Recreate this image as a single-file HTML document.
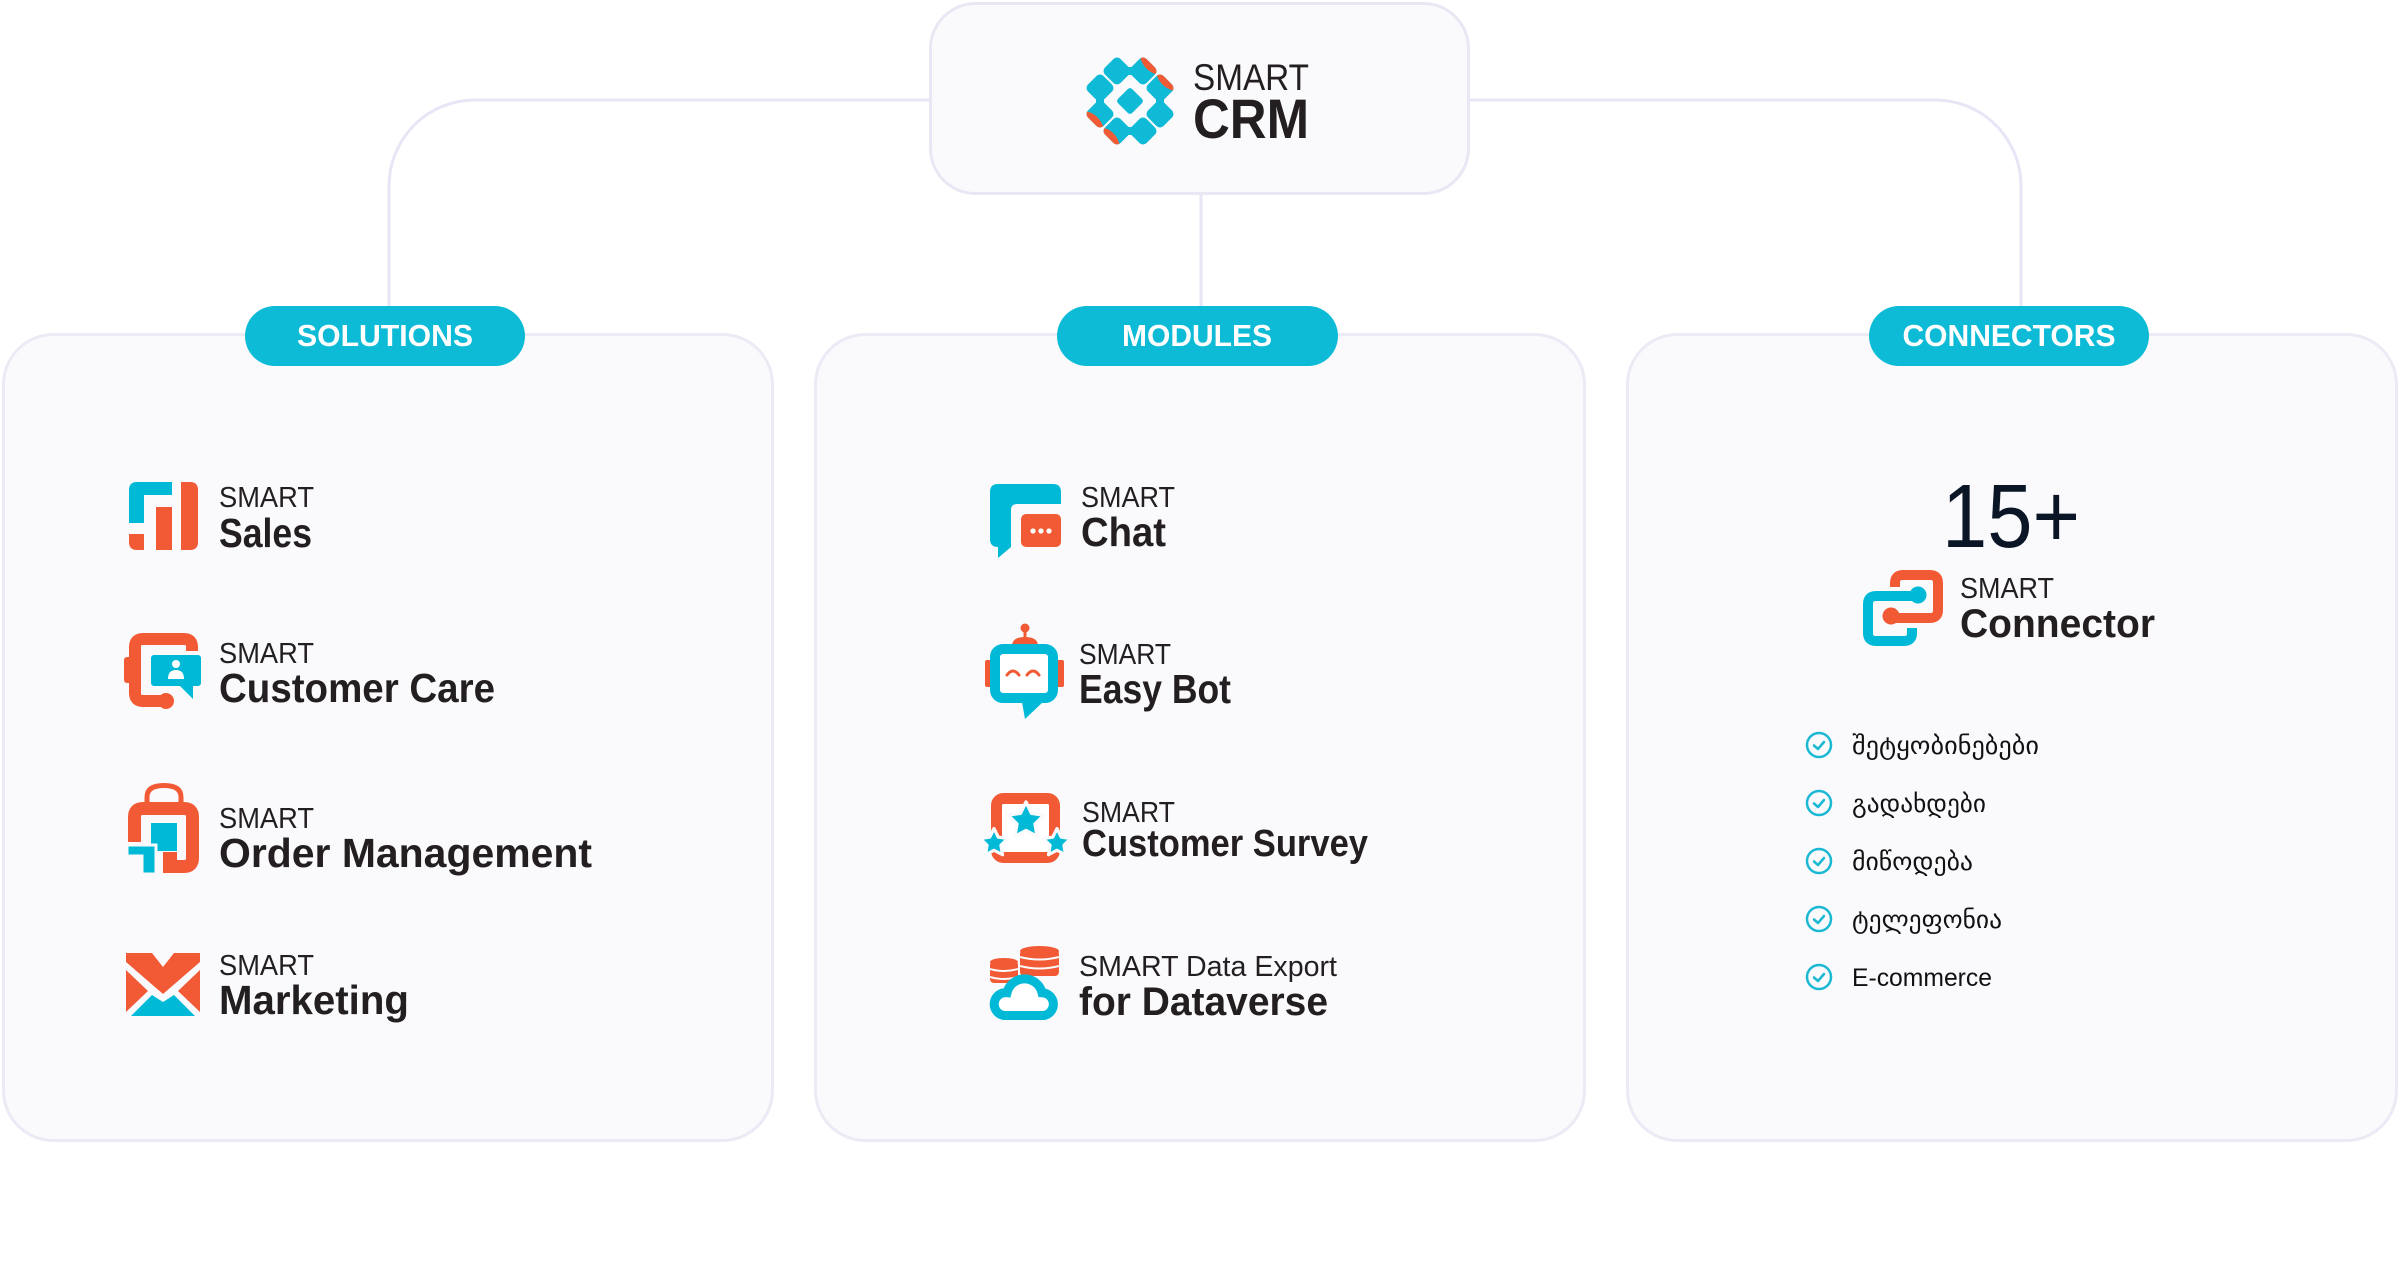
<!DOCTYPE html>
<html><head><meta charset="utf-8"><style>
html,body{margin:0;padding:0;background:#fff;}
svg{display:block;}
text{font-family:"Liberation Sans","DejaVu Sans",sans-serif;}
.geo{font-family:"DejaVu Sans","Liberation Sans",sans-serif;}
</style></head><body>
<svg width="2400" height="1284" viewBox="0 0 2400 1284" xmlns="http://www.w3.org/2000/svg">
<defs>
<polygon id="star" points="0,-10 2.94,-4.05 9.51,-3.09 4.76,1.55 5.88,8.09 0,5 -5.88,8.09 -4.76,1.55 -9.51,-3.09 -2.94,-4.05"/>
<rect id="lobe" x="-11" y="-11" width="22" height="22" rx="5"/>
<clipPath id="cT2"><use href="#lobe" transform="translate(13,-30) rotate(45)"/></clipPath>
<clipPath id="cL2"><use href="#lobe" transform="translate(-30,13) rotate(45)"/></clipPath>
<clipPath id="cR1"><use href="#lobe" transform="translate(30,-13) rotate(45)"/></clipPath>
<clipPath id="cB1"><use href="#lobe" transform="translate(-13,30) rotate(45)"/></clipPath>
</defs>
<rect width="2400" height="1284" fill="#fff"/>

<!-- connectors -->
<g fill="none" stroke="#e6e6f6" stroke-width="3">
<path d="M930,100 H475 A86,86 0 0 0 389,186 V306"/>
<path d="M1469,100 H1935 A86,86 0 0 1 2021,186 V306"/>
<path d="M1201,194 V306"/>
</g>

<!-- CRM box -->
<rect x="930.5" y="3.5" width="538" height="190" rx="45" fill="#fafafd" stroke="#e8e8f4" stroke-width="3"/>
<g transform="translate(1130,101)">
  <g fill="#0ebad6">
    <use href="#lobe" transform="translate(-13,-30) rotate(45)"/>
    <use href="#lobe" transform="translate(13,-30) rotate(45)"/>
    <rect x="-4" y="-34" width="8" height="8"/>
    <use href="#lobe" transform="translate(-30,-13) rotate(45)"/>
    <use href="#lobe" transform="translate(-30,13) rotate(45)"/>
    <rect x="-34" y="-4" width="8" height="8"/>
    <use href="#lobe" transform="translate(30,-13) rotate(45)"/>
    <use href="#lobe" transform="translate(30,13) rotate(45)"/>
    <rect x="26" y="-4" width="8" height="8"/>
    <use href="#lobe" transform="translate(-13,30) rotate(45)"/>
    <use href="#lobe" transform="translate(13,30) rotate(45)"/>
    <rect x="-4" y="26" width="8" height="8"/>
    <rect x="-10" y="-10" width="20" height="20" rx="3" transform="rotate(45)"/>
  </g>
  <g fill="#f05a35">
    <circle cx="32" cy="-48" r="22" clip-path="url(#cT2)"/>
    <circle cx="-48" cy="32" r="22" clip-path="url(#cL2)"/>
    <circle cx="48" cy="-32" r="22" clip-path="url(#cR1)"/>
    <circle cx="-32" cy="48" r="22" clip-path="url(#cB1)"/>
  </g>
</g>
<text x="1193" y="90" font-size="37" fill="#231f20" textLength="116" lengthAdjust="spacingAndGlyphs">SMART</text>
<text x="1193" y="138" font-size="56" font-weight="bold" fill="#231f20" textLength="116" lengthAdjust="spacingAndGlyphs">CRM</text>

<!-- cards -->
<g fill="#fafafd" stroke="#ebebf5" stroke-width="3">
<rect x="3.5" y="334.5" width="769" height="806" rx="50"/>
<rect x="815.5" y="334.5" width="769" height="806" rx="50"/>
<rect x="1627.5" y="334.5" width="769" height="806" rx="50"/>
</g>

<!-- pills -->
<g fill="#0ebbd6">
<rect x="245" y="306" width="280" height="60" rx="30"/>
<rect x="1057" y="306" width="281" height="60" rx="30"/>
<rect x="1869" y="306" width="280" height="60" rx="30"/>
</g>
<g fill="#fff" font-size="31" font-weight="bold" text-anchor="middle">
<text x="385" y="346" textLength="176" lengthAdjust="spacingAndGlyphs">SOLUTIONS</text>
<text x="1197" y="346" textLength="150" lengthAdjust="spacingAndGlyphs">MODULES</text>
<text x="2009" y="346" textLength="213" lengthAdjust="spacingAndGlyphs">CONNECTORS</text>
</g>

<!-- ===== Card 1 icons ===== -->
<!-- Sales -->
<path fill="#00b9d6" d="M129,523 V490 Q129,482 137,482 H172 V495 H144 V523 Z"/>
<path fill="#f15a34" d="M181,482 H190 Q198,482 198,490 V542 Q198,550 190,550 H181 Z"/>
<rect fill="#f15a34" x="156" y="507" width="16" height="43"/>
<path fill="#f15a34" d="M129,534 H144 V550 H137 Q129,550 129,542 Z"/>

<!-- Customer Care -->
<path fill="none" stroke="#f15a34" stroke-width="12" d="M192,662 V647 Q192,639 184,639 H143 Q135,639 135,647 V693 Q135,701 143,701 H163"/>
<rect fill="#f15a34" x="124" y="657" width="9" height="26" rx="3"/>
<circle fill="#f15a34" cx="166" cy="701" r="8"/>
<rect fill="#00b9d6" stroke="#fafafd" stroke-width="4" x="149" y="653" width="54" height="35" rx="5"/>
<polygon fill="#00b9d6" points="180,686 193,686 193,699"/>
<circle fill="#fff" cx="176" cy="664" r="4"/>
<path fill="#fff" d="M168,679 Q168,670 176,670 Q184,670 184,679 Z"/>

<!-- Order Management -->
<path fill="none" stroke="#f15a34" stroke-width="5" d="M147,805 V797 Q147,785.5 164,785.5 Q181,785.5 181,797 V805"/>
<path fill="none" stroke="#f15a34" stroke-width="13" d="M134.5,842 V817 Q134.5,808.5 143,808.5 H184 Q192.5,808.5 192.5,817 V858 Q192.5,866.5 184,866.5 H165"/>
<rect fill="#f15a34" x="163" y="852" width="14" height="21"/>
<rect fill="#00b9d6" x="151" y="823" width="26" height="28"/>
<path fill="#00b9d6" stroke="#fafafd" stroke-width="3" d="M127,845 H156 V874 H142 V856 H127 Z"/>

<!-- Marketing -->
<polygon fill="#f15a34" points="126,953 152,953 163,967 174,953 200,953 200,962 163,994 126,962"/>
<polygon fill="#f15a34" points="126,970 126,1012 148,991"/>
<polygon fill="#f15a34" points="200,970 200,1012 178,991"/>
<polygon fill="#00b9d6" points="131,1016 195,1016 174,995 163,1002 152,995"/>

<!-- Card 1 text -->
<g fill="#231f20">
<text x="219" y="507" font-size="29" textLength="95" lengthAdjust="spacingAndGlyphs">SMART</text>
<text x="219" y="547" font-size="41" font-weight="bold" textLength="93" lengthAdjust="spacingAndGlyphs">Sales</text>
<text x="219" y="663" font-size="29" textLength="95" lengthAdjust="spacingAndGlyphs">SMART</text>
<text x="219" y="702" font-size="41" font-weight="bold" textLength="276" lengthAdjust="spacingAndGlyphs">Customer Care</text>
<text x="219" y="828" font-size="29" textLength="95" lengthAdjust="spacingAndGlyphs">SMART</text>
<text x="219" y="867" font-size="41" font-weight="bold" textLength="373" lengthAdjust="spacingAndGlyphs">Order Management</text>
<text x="219" y="975" font-size="29" textLength="95" lengthAdjust="spacingAndGlyphs">SMART</text>
<text x="219" y="1014" font-size="41" font-weight="bold" textLength="190" lengthAdjust="spacingAndGlyphs">Marketing</text>
</g>

<!-- ===== Card 2 icons ===== -->
<!-- Chat -->
<path fill="#00b9d6" d="M998,484 H1053 Q1061,484 1061,492 V504 H1017 Q1011,504 1011,510 V547 L998,558 V547 Q990,547 990,539 V492 Q990,484 998,484 Z"/>
<rect fill="#f15a34" x="1021" y="514" width="40" height="33" rx="5"/>
<g fill="#fff"><circle cx="1033" cy="531" r="2.6"/><circle cx="1041" cy="531" r="2.6"/><circle cx="1049" cy="531" r="2.6"/></g>

<!-- Easy Bot -->
<circle fill="#f15a34" cx="1025" cy="628" r="4.5"/>
<rect fill="#f15a34" x="1023.5" y="628" width="3" height="12"/>
<path fill="#f15a34" d="M1012,646 Q1012,637 1025,637 Q1038,637 1038,646 Z"/>
<rect fill="#f15a34" x="985" y="660" width="8" height="27" rx="2"/>
<rect fill="#f15a34" x="1056" y="660" width="8" height="27" rx="2"/>
<rect fill="#fff" stroke="#00b9d6" stroke-width="10" x="995" y="649" width="58" height="49" rx="8"/>
<polygon fill="#00b9d6" points="1022,702 1043,702 1025,719"/>
<g fill="none" stroke="#f15a34" stroke-width="3" stroke-linecap="round">
<path d="M1007,675 Q1013,667 1019,675"/><path d="M1027,675 Q1033,667 1039,675"/>
</g>

<!-- Customer Survey -->
<rect fill="#fff" stroke="#f15a34" stroke-width="11" x="996.5" y="798.5" width="58" height="59" rx="7"/>
<g fill="#00b9d6" stroke="#fafafd" stroke-linejoin="round">
<use href="#star" transform="translate(1026,821) scale(1.9)" stroke-width="1.8"/>
<use href="#star" transform="translate(994,843) scale(1.45)" stroke-width="2.2"/>
<use href="#star" transform="translate(1057,843) scale(1.45)" stroke-width="2.2"/>
</g>

<!-- Data Export -->
<rect fill="#f15a34" x="1020" y="950" width="39" height="26" rx="4"/>
<ellipse fill="#f15a34" cx="1039.5" cy="951" rx="19.5" ry="5"/>
<rect fill="#f15a34" x="990" y="961" width="28" height="22" rx="4"/>
<ellipse fill="#f15a34" cx="1004" cy="962" rx="14" ry="4"/>
<g stroke="#fafafd" stroke-width="2" fill="none">
<path d="M1020,957 Q1039.5,962 1059,957"/><path d="M1020,966 Q1039.5,971 1059,966"/>
<path d="M990,969 Q1004,973 1018,969"/><path d="M990,977 Q1004,981 1018,977"/>
</g>
<path fill="#fff" stroke="#00b9d6" stroke-width="9" d="M1004,1015.5 H1044 A11.5,11.5 0 0 0 1042,992.7 A18,18 0 0 0 1007,992.7 A11.5,11.5 0 0 0 1004,1015.5 Z"/>

<!-- Card 2 text -->
<g fill="#231f20">
<text x="1081" y="507" font-size="29" textLength="94" lengthAdjust="spacingAndGlyphs">SMART</text>
<text x="1081" y="546" font-size="41" font-weight="bold" textLength="85" lengthAdjust="spacingAndGlyphs">Chat</text>
<text x="1079" y="664" font-size="29" textLength="92" lengthAdjust="spacingAndGlyphs">SMART</text>
<text x="1079" y="703" font-size="41" font-weight="bold" textLength="152" lengthAdjust="spacingAndGlyphs">Easy Bot</text>
<text x="1082" y="822" font-size="29" textLength="93" lengthAdjust="spacingAndGlyphs">SMART</text>
<text x="1082" y="856" font-size="38" font-weight="bold" textLength="286" lengthAdjust="spacingAndGlyphs">Customer Survey</text>
<text x="1079" y="976" font-size="29" textLength="258" lengthAdjust="spacingAndGlyphs">SMART Data Export</text>
<text x="1079" y="1015" font-size="40" font-weight="bold" textLength="249" lengthAdjust="spacingAndGlyphs">for Dataverse</text>
</g>

<!-- ===== Card 3 ===== -->
<text x="1942" y="547" font-size="90" fill="#0a1526" textLength="138" lengthAdjust="spacingAndGlyphs">15+</text>

<!-- Connector icon -->
<path fill="none" stroke="#f15a34" stroke-width="10" d="M1895,587 V583 Q1895,575 1903,575 H1930 Q1938,575 1938,583 V610 Q1938,618 1930,618 H1892"/>
<circle fill="#f15a34" cx="1891" cy="616" r="8.5"/>
<path fill="none" stroke="#00b9d6" stroke-width="10" d="M1918,596 H1876 Q1868,596 1868,604 V633 Q1868,641 1876,641 H1904 Q1912,641 1912,633 V628"/>
<circle fill="#00b9d6" cx="1918" cy="595" r="8.5"/>

<g fill="#231f20">
<text x="1960" y="598" font-size="29" textLength="94" lengthAdjust="spacingAndGlyphs">SMART</text>
<text x="1960" y="637" font-size="40" font-weight="bold" textLength="195" lengthAdjust="spacingAndGlyphs">Connector</text>
</g>

<!-- check list -->
<g fill="none" stroke="#1bb8d4" stroke-width="2.5" stroke-linecap="round" stroke-linejoin="round">
<circle cx="1819" cy="745" r="12"/><polyline points="1814,745.5 1818,749 1824,742"/>
<circle cx="1819" cy="803" r="12"/><polyline points="1814,803.5 1818,807 1824,800"/>
<circle cx="1819" cy="861" r="12"/><polyline points="1814,861.5 1818,865 1824,858"/>
<circle cx="1819" cy="919" r="12"/><polyline points="1814,919.5 1818,923 1824,916"/>
<circle cx="1819" cy="977" r="12"/><polyline points="1814,977.5 1818,981 1824,974"/>
</g>
<g fill="#111" font-size="25">
<text class="geo" x="1852" y="754" textLength="187" lengthAdjust="spacingAndGlyphs">შეტყობინებები</text>
<text class="geo" x="1852" y="812" textLength="134" lengthAdjust="spacingAndGlyphs">გადახდები</text>
<text class="geo" x="1852" y="870" textLength="121" lengthAdjust="spacingAndGlyphs">მიწოდება</text>
<text class="geo" x="1852" y="928" textLength="150" lengthAdjust="spacingAndGlyphs">ტელეფონია</text>
<text x="1852" y="986" textLength="140" lengthAdjust="spacingAndGlyphs">E-commerce</text>
</g>
</svg>
</body></html>
